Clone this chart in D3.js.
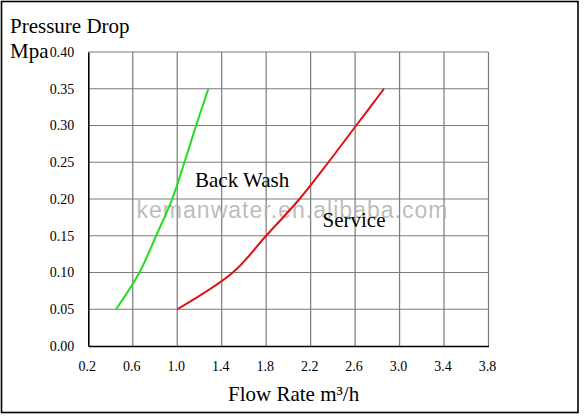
<!DOCTYPE html>
<html>
<head>
<meta charset="utf-8">
<script src="https://cdn.jsdelivr.net/npm/d3@7"></script>
<style>
  html, body { margin: 0; padding: 0; background: #fff; }
  svg { display: block; }
  .serif { font-family: "Liberation Serif", "Times New Roman", serif; fill: #000; }
</style>
</head>
<body>
<div id="chart"></div>
<script>
// pressure drop (MPa) at each curve point
const pressure = [0.05, 0.10, 0.15, 0.20, 0.25, 0.30, 0.35];
// flow rate (m3/h)
const backWashFlow = [0.45, 0.66, 0.81, 0.955, 1.065, 1.17, 1.28];
const serviceFlow = [1.0, 1.50, 1.80, 2.10, 2.36, 2.61, 2.86];

const xTicks = [0.2, 0.6, 1.0, 1.4, 1.8, 2.2, 2.6, 3.0, 3.4, 3.8];
const yTicks = [0.00, 0.05, 0.10, 0.15, 0.20, 0.25, 0.30, 0.35, 0.40];

const W = 584, H = 416;
const plot = { left: 88.3, right: 488.5, top: 52, bottom: 346 };

const svg = d3.select('#chart').append('svg')
  .attr('width', W)
  .attr('height', H);

// outer frame of the picture
svg.append('rect')
  .attr('x', 1.5).attr('y', 1.5)
  .attr('width', 576.5).attr('height', 411)
  .attr('fill', 'none')
  .attr('stroke', '#000')
  .attr('stroke-width', 1.6);

const x = d3.scaleLinear().domain([0.2, 3.8]).range([plot.left, plot.right]);
const y = d3.scaleLinear().domain([0, 0.4]).range([plot.bottom, plot.top]);

// grid
const grid = svg.append('g').attr('stroke', '#7a7a7a').attr('stroke-width', 1.2);
grid.selectAll('.vgrid')
  .data(xTicks.slice(1))
  .join('line')
  .attr('x1', d => x(d)).attr('x2', d => x(d))
  .attr('y1', plot.top).attr('y2', plot.bottom);
grid.selectAll('.hgrid')
  .data(yTicks.slice(1))
  .join('line')
  .attr('x1', plot.left).attr('x2', plot.right)
  .attr('y1', d => y(d)).attr('y2', d => y(d));

// axes (no tick marks, labels only)
const xAxis = svg.append('g')
  .attr('transform', `translate(0,${plot.bottom})`)
  .call(d3.axisBottom(x).tickValues(xTicks).tickFormat(d3.format('.1f')).tickSize(0).tickPadding(15));
const yAxis = svg.append('g')
  .attr('transform', `translate(${plot.left},0)`)
  .call(d3.axisLeft(y).tickValues(yTicks).tickFormat(d3.format('.2f')).tickSize(0).tickPadding(14));

[xAxis, yAxis].forEach(a => {
  a.attr('font-size', null).attr('font-family', null);
  a.select('.domain').attr('stroke', '#000').attr('stroke-width', 1.6);
  a.selectAll('text')
    .attr('class', 'serif')
    .style('font-size', '14px')
    .attr('fill', '#000');
});
xAxis.selectAll('text').attr('dx', '-1.5');

// watermark
svg.append('text')
  .attr('x', 136.5)
  .attr('y', 217.5)
  .attr('font-family', 'Arial, "Liberation Sans", sans-serif')
  .attr('font-size', 23)
  .attr('fill', '#b0b0b0')
  .attr('fill-opacity', 0.85)
  .attr('textLength', 311)
  .text('kemanwater.en.alibaba.com');

// curves
const line = d3.line()
  .x(d => x(d[0]))
  .y(d => y(d[1]))
  .curve(d3.curveCatmullRom.alpha(0.5));

svg.append('path')
  .datum(backWashFlow.map((f, i) => [f, pressure[i]]))
  .attr('d', line)
  .attr('fill', 'none')
  .attr('stroke', '#22dd22')
  .attr('stroke-width', 2);

svg.append('path')
  .datum(serviceFlow.map((f, i) => [f, pressure[i]]))
  .attr('d', line)
  .attr('fill', 'none')
  .attr('stroke', '#dd1111')
  .attr('stroke-width', 2);

// labels
const labels = [
  { text: 'Pressure Drop', x: 10, y: 32.5 },
  { text: 'Mpa', x: 10, y: 58 },
  { text: 'Back Wash', x: 195, y: 186.5 },
  { text: 'Service', x: 322.5, y: 226.5 },
  { text: 'Flow Rate m³/h', x: 228, y: 400.5 },
];
svg.selectAll('.label')
  .data(labels)
  .join('text')
  .attr('class', 'serif label')
  .attr('x', d => d.x)
  .attr('y', d => d.y)
  .attr('font-size', 21)
  .text(d => d.text);
</script>
</body>
</html>
